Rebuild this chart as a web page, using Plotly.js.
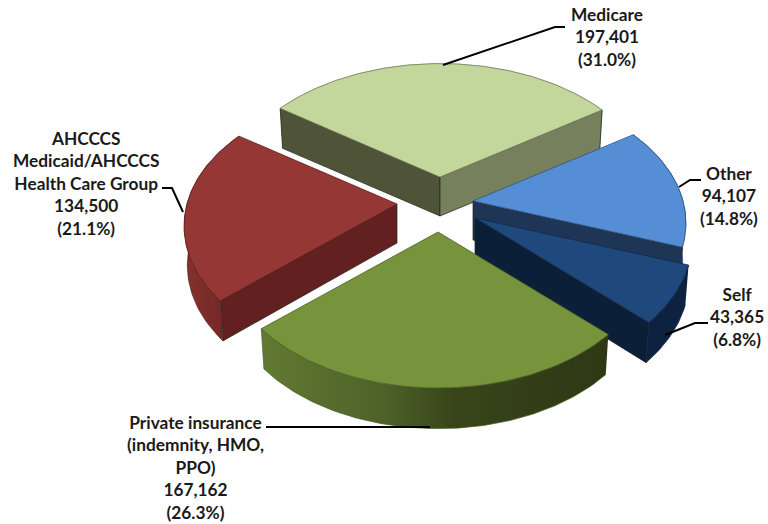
<!DOCTYPE html>
<html><head><meta charset="utf-8">
<script src="https://cdn.plot.ly/plotly-3.0.1.min.js"></script>
<style>html,body{margin:0;padding:0;background:#fff}#c{width:768px;height:524px}</style>
</head><body><div id="c"></div>
<script>
// ---- data ----
const categories = ['Medicare','Other','Self','Private insurance<br>(indemnity, HMO,<br>PPO)','AHCCCS<br>Medicaid/AHCCCS<br>Health Care Group'];
const sliceNames = ['Medicare','Other','Self','Private insurance (indemnity, HMO, PPO)','AHCCCS Medicaid/AHCCCS Health Care Group'];
const values = [197401, 94107, 43365, 167162, 134500];

// ---- drawing style: view of the tilted, exploded pie ----
const apexX = [440, 473, 475, 438, 397];
const apexY = [177, 201, 218, 232, 204];
const radiusScale = [1.012, 1, 1.02, 1, 1];
const topColor = ['#C3D69B','#558ED5','#1F497D','#77933C','#953735'];
const wallRadial = [['#4F5338','#76805C'],['#24395A','#1F3556'],['#0B1F38','#0B1F38'],['#333F1B','#5E7530'],['#632020','#632020']];
const outerStops = [
  [[0,'#76805C'],[1,'#76805C']],
  [[0,'#1F3556'],[1,'#1F3556']],
  [[0,'#0C2240'],[1,'#0C2240']],
  [[0,'#627A32'],[0.35,'#4E6229'],[0.55,'#384519'],[1,'#2E3815']],
  [[0,'#85302E'],[0.6,'#762A28'],[1,'#6B2423']]
];
const edgeColor = ['#7F8C66','#2F5587','#10294A','#4A5E24','#5F1E1D'];
const A = 210, B = 130.4, K = 0.164, DEPTH = 39, INSET = 0.985, ROTATE = 0.5;

const total = values.reduce((a,b)=>a+b,0);
function fmt(v){return v.toString().replace(/\B(?=(\d{3})+$)/g,',');}
const shares = values.map(v=>v/total*360);
const startAngle = -shares[0]/2 + ROTATE;

function upperPt(i,deg){
  const t=deg*Math.PI/180, s=radiusScale[i]/(1+K*Math.cos(t));
  return [apexX[i]+A*Math.sin(t)*s, apexY[i]-B*Math.cos(t)*s];
}
function lowerPt(i,deg){
  const p=upperPt(i,deg), front=Math.max(0,-Math.cos(deg*Math.PI/180));
  return [apexX[i]+(p[0]-apexX[i])*INSET, apexY[i]+(p[1]-apexY[i])*INSET+DEPTH+4*front];
}
function poly(pts,opts){
  return Object.assign({type:'scatter',mode:'lines',x:pts.map(p=>p[0]),y:pts.map(p=>p[1]),fill:'toself',
    hoverinfo:'skip',showlegend:false,line:{width:0.7}},opts);
}
function arc(i,a,b,f){const o=[];const n=Math.max(2,Math.ceil(Math.abs(b-a)));for(let k=0;k<=n;k++)o.push(f(i,a+(b-a)*k/n));return o;}

const traces=[];
const starts=[];let acc=startAngle;
values.forEach((v,i)=>{starts.push(acc);acc+=shares[i];});
// paint order: back to front
[0,4,1,2,3].forEach(i=>{
  const a=starts[i], b=a+shares[i], m=(a+b)/2;
  const apexT=[apexX[i],apexY[i]], apexL=[apexX[i],apexY[i]+DEPTH];
  const pm=upperPt(i,m);
  function visible(deg){
    const e=upperPt(i,deg),ex=e[0]-apexX[i],ey=e[1]-apexY[i],mx=pm[0]-apexX[i],my=pm[1]-apexY[i];
    return (ex*my-ey*mx)/ex<0;
  }
  // rim
  const rimTop=arc(i,a,b,upperPt), rimLow=arc(i,a,b,lowerPt);
  traces.push(poly(rimTop.concat(rimLow.slice().reverse()),{
    fillcolor:outerStops[i][0][1],
    fillgradient:{type:'horizontal',colorscale:outerStops[i]},
    line:{width:0.7,color:edgeColor[i]},name:sliceNames[i]+' rim'}));
  // cut faces
  [[a,0],[b,1]].forEach(([deg,j])=>{
    if(!visible(deg))return;
    traces.push(poly([apexT,upperPt(i,deg),lowerPt(i,deg),apexL,apexT],{fillcolor:wallRadial[i][j],line:{width:0.7,color:'#20241a'},name:sliceNames[i]+' face'}));
  });
  // top face
  traces.push(poly([apexT].concat(rimTop,[apexT]),{fillcolor:topColor[i],line:{width:0.8,color:edgeColor[i]},name:sliceNames[i]}));
});

// ---- labels ----
const labelX=[607,729,737,195,86], labelY=[37,196,317,467,183];
const annotations=values.map((v,i)=>({
  xref:'x',yref:'y',x:labelX[i],y:labelY[i],xanchor:'center',yanchor:'middle',align:'center',showarrow:false,
  text:'<b>'+categories[i]+'<br>'+fmt(v)+'<br>('+(v/total*100).toFixed(1)+'%)</b>',
  font:{family:'Lato, Carlito, sans-serif',size:17.3,color:'#1a1a1a'}
}));
const leaders=['M443,65 L555,27 L565,27','M679,187 L690,180 L701,180','M665,335 L695,323 L708,323','M183,212 L172,188 L162,188','M266,427 L430,427'];
const shapes=leaders.map(p=>({type:'path',xref:'x',yref:'y',path:p,line:{color:'#000',width:2}}));

Plotly.newPlot('c',traces,{
  width:768,height:524,margin:{l:0,r:0,t:0,b:0},paper_bgcolor:'#fff',plot_bgcolor:'#fff',showlegend:false,
  xaxis:{range:[0,768],visible:false,fixedrange:true},
  yaxis:{range:[524,0],visible:false,fixedrange:true},
  annotations:annotations,shapes:shapes
},{displayModeBar:false,staticPlot:true});
</script></body></html>
